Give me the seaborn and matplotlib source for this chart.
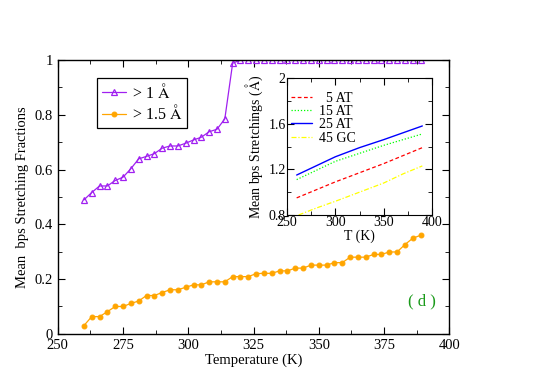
import numpy as np
import pandas as pd
import matplotlib
matplotlib.use("Agg")
import matplotlib.pyplot as plt
import seaborn as sns
from matplotlib.ticker import MultipleLocator

sns.set_style("ticks", {'axes.edgecolor': 'black', 'xtick.color': 'black',
                        'ytick.color': 'black', 'text.color': 'black',
                        'axes.labelcolor': 'black'})
plt.rcParams['font.family'] = ['Liberation Serif', 'DejaVu Serif']
plt.rcParams['mathtext.fontset'] = 'stix'

# Main panel data
temps = list(range(260, 390, 3))
frac_1A = [0.489, 0.516, 0.540, 0.540, 0.560, 0.572, 0.603, 0.639, 0.648, 0.658,
           0.678, 0.686, 0.686, 0.696, 0.708, 0.718, 0.738, 0.747, 0.785, 0.988] + [1.0] * 24
frac_15A = [0.030, 0.063, 0.063, 0.081, 0.100, 0.100, 0.111, 0.120, 0.140, 0.140,
            0.151, 0.161, 0.161, 0.170, 0.179, 0.179, 0.190, 0.190, 0.190, 0.209,
            0.209, 0.209, 0.220, 0.221, 0.221, 0.230, 0.230, 0.240, 0.240, 0.251,
            0.251, 0.251, 0.260, 0.260, 0.280, 0.280, 0.280, 0.290, 0.290, 0.299,
            0.299, 0.326, 0.349, 0.360]

# Inset data
inset_T = [260, 280, 300, 325, 350, 370, 390]
at5 = [0.95, 1.02, 1.09, 1.17, 1.25, 1.32, 1.39]
at15 = [1.11, 1.19, 1.27, 1.34, 1.41, 1.46, 1.51]
at25 = [1.15, 1.23, 1.31, 1.39, 1.46, 1.52, 1.58]
gc45 = [0.80, 0.86, 0.92, 1.00, 1.08, 1.16, 1.23]
inset_T_gc = [262, 280, 300, 325, 350, 370, 390]

fig = plt.figure(figsize=(5.4, 3.82), dpi=100)
ax = fig.add_axes([0.107, 0.126, 0.725, 0.717])

purple = '#a020f0'
orange = '#ffa500'

df = pd.DataFrame({'T': temps, 'f1': frac_1A, 'f15': frac_15A})
sns.lineplot(data=df, x='T', y='f1', ax=ax, color=purple, lw=0.9,
             marker='^', markersize=5, markerfacecolor='none',
             markeredgecolor=purple, markeredgewidth=0.9, label=r'> 1 $\mathrm{\AA}$')
sns.lineplot(data=df, x='T', y='f15', ax=ax, color=orange, lw=0.9,
             marker='o', markersize=3.5, markerfacecolor=orange,
             markeredgecolor=orange, label=r'> 1.5 $\mathrm{\AA}$')

ax.set_xlim(250, 400)
ax.set_ylim(0, 1)
ax.xaxis.set_major_locator(MultipleLocator(25))
ax.xaxis.set_minor_locator(MultipleLocator(12.5))
ax.set_yticks([0, 0.2, 0.4, 0.6, 0.8, 1.0])
ax.set_yticklabels(['0', '0.2', '0.4', '0.6', '0.8', '1'])
ax.yaxis.set_minor_locator(MultipleLocator(0.1))
ax.tick_params(which='both', direction='in', top=True, right=True, labelsize=10.5)
ax.tick_params(which='major', length=5)
ax.tick_params(which='minor', length=3)
ax.set_xlabel('Temperature (K)', fontsize=10.5, labelpad=1)
ax.set_ylabel('Mean  bps Stretching Fractions', fontsize=10.5, labelpad=4)
for s in ax.spines.values():
    s.set_linewidth(1.0)

leg = ax.legend(loc='upper left', bbox_to_anchor=(0.10, 0.934), borderaxespad=0,
                fontsize=11.5, frameon=True, fancybox=False, edgecolor='black',
                framealpha=1, handlelength=1.5, borderpad=0.3, labelspacing=0.15,
                handletextpad=0.4)
leg.get_frame().set_linewidth(0.9)

ax.text(384, 0.12, '( d )', color='#1a9a1a', fontsize=12, va='center', ha='left')

# Inset
axi = fig.add_axes([287 / 540, 1 - 215 / 382, (432 - 287) / 540, (215 - 78) / 382])
dfi = pd.DataFrame({'T': inset_T, 'a5': at5, 'a15': at15, 'a25': at25})
dfg = pd.DataFrame({'T': inset_T_gc, 'g45': gc45})
sns.lineplot(data=dfi, x='T', y='a5', ax=axi, color='#ff0000', lw=0.9,
             linestyle=(0, (3, 2)), label='  5 AT')
sns.lineplot(data=dfi, x='T', y='a15', ax=axi, color='#00ff00', lw=0.9,
             linestyle=(0, (1, 1.5)), label='15 AT')
sns.lineplot(data=dfi, x='T', y='a25', ax=axi, color='#0000ff', lw=1.0,
             linestyle='-', label='25 AT')
sns.lineplot(data=dfg, x='T', y='g45', ax=axi, color='#ffff00', lw=0.9,
             linestyle=(0, (4, 1.5, 1, 1.5)), label='45 GC')
axi.set_xlim(250, 400)
axi.set_ylim(0.8, 2.0)
axi.set_xticks([250, 300, 350, 400])
axi.xaxis.set_minor_locator(MultipleLocator(25))
axi.set_yticks([0.8, 1.2, 1.6, 2.0])
axi.set_yticklabels(['0.8', '1.2', '1.6', '2'])
axi.yaxis.set_minor_locator(MultipleLocator(0.2))
axi.tick_params(which='both', direction='in', top=True, right=True, labelsize=10,
                pad=1)
axi.tick_params(which='major', length=5)
axi.tick_params(which='minor', length=3)
axi.set_xlabel('T (K)', fontsize=10, labelpad=0)
axi.set_ylabel(r'Mean bps Stretchings ($\mathrm{\AA}$)', fontsize=10, labelpad=2)
lgi = axi.legend(loc='upper left', bbox_to_anchor=(0.03, 0.90), borderaxespad=0,
                 fontsize=10, frameon=False, handlelength=1.5, labelspacing=0.02,
                 handletextpad=0.5, borderpad=0.0)

fig.savefig('out.png', dpi=100)
